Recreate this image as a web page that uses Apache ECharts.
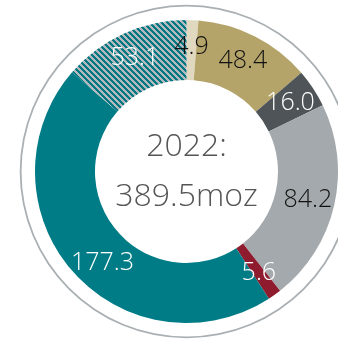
<!DOCTYPE html>
<html><head><meta charset="utf-8">
<script src="https://cdn.jsdelivr.net/npm/echarts@6/dist/echarts.min.js"></script>
<style>html,body{margin:0;padding:0;background:#fff}#c{width:338px;height:339px}</style>
</head><body><div id="c"></div>
<script>
const categories = ['A','B','C','D','E','F','G'];
const values = [4.9, 48.4, 16.0, 84.2, 5.6, 177.3, 53.1];
const labels = ['4.9','48.4','16.0','84.2','5.6','177.3','53.1'];
const colors = ['#e0d9c0','#b5a46a','#4e5458','#a3a9ac','#8f1b2f','#007c87','hatch'];
const labelColors = ['#111','#111','#fff','#111','#fff','#fff','#fff'];
const centerLines = ['2022:', '389.5moz'];

function hatch(){
  const N=6, c=document.createElement('canvas'); c.width=N; c.height=N;
  const g=c.getContext('2d');
  for(let x=0;x<N;x++)for(let y=0;y<N;y++){
    g.fillStyle=((x-y+N)%N)<3?'#037882':'#b3b9bc';
    g.fillRect(x,y,1,1);
  }
  return {image:c, repeat:'repeat'};
}
const FONT='Open Sans';
const data = values.map((v,i)=>({name:categories[i], value:v,
    itemStyle:{color: colors[i]==='hatch'?hatch():colors[i]},
    label:{color:labelColors[i], formatter:labels[i]}}));
const chart = echarts.init(document.getElementById('c'));
chart.setOption({
  animation:false,
  title:{text:centerLines.join('\n'), left:186.5, top:122, textAlign:'center', padding:0,
    textStyle:{fontFamily:FONT, fontWeight:300, fontSize:32, lineHeight:50, color:'#555'}},
  series:[
    {type:'pie', center:[186.5,171.5], radius:[165,166.8], silent:true, label:{show:false},
     data:[{value:1,itemStyle:{color:'#a9afb2'}}]},
    {type:'pie', center:[186.5,171.5], radius:[91.5,151.5], startAngle:90, clockwise:true,
     silent:true, labelLine:{show:false},
     label:{show:true, position:'inside', fontFamily:FONT, fontWeight:300, fontSize:25},
     labelLayout:function(p){ return p.dataIndex===5 ? {dx:10, dy:10} : {}; },
     itemStyle:{borderWidth:0},
     data:data}
  ]
});
</script></body></html>
